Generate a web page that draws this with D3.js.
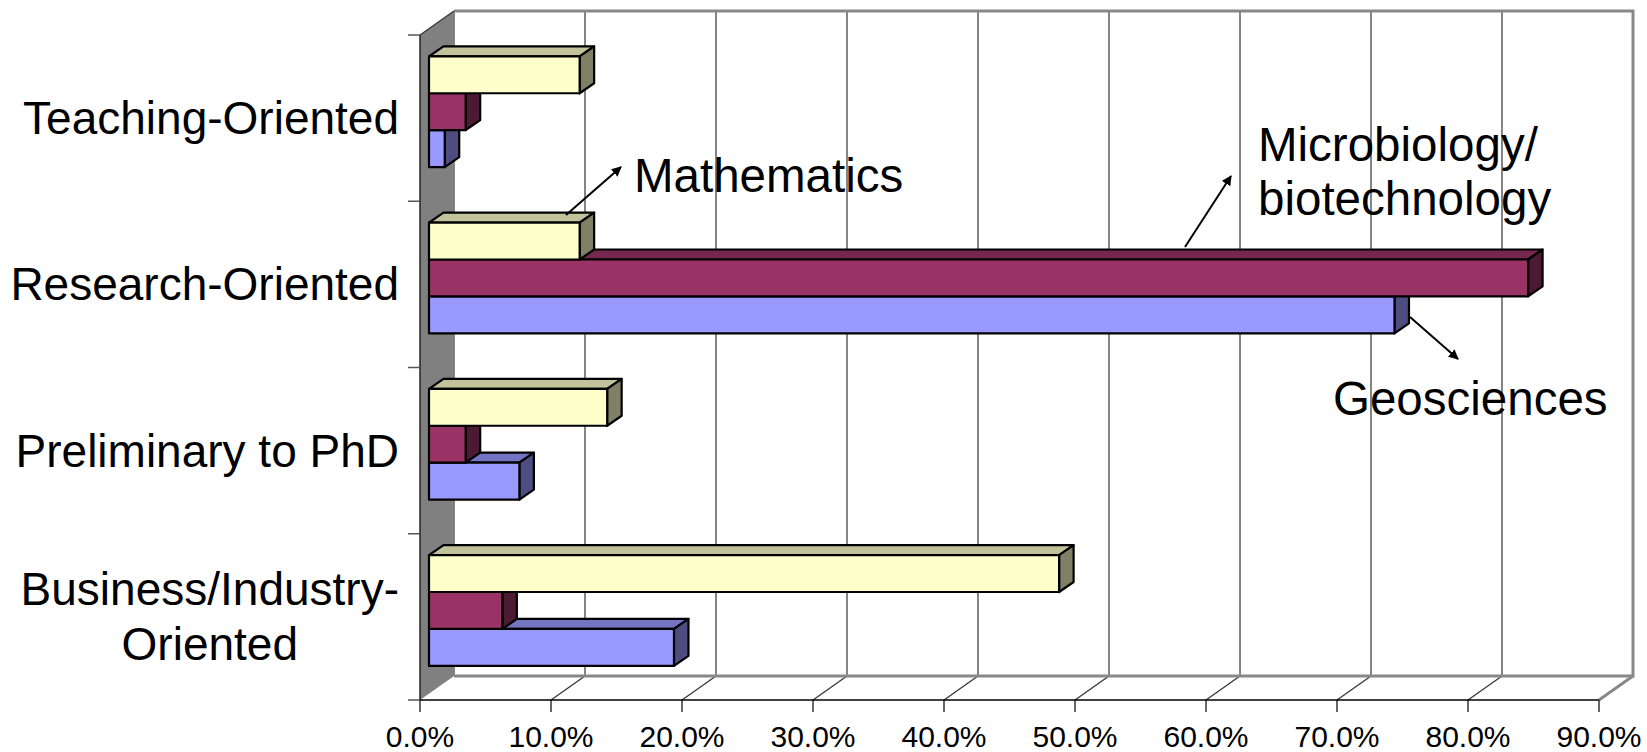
<!DOCTYPE html>
<html>
<head>
<meta charset="utf-8">
<script src="https://cdn.jsdelivr.net/npm/d3@7"></script>
<style>
  body { margin: 0; background: #fff; }
  svg { display: block; }
  text { font-family: "Liberation Sans", Arial, sans-serif; fill: #000; }
</style>
</head>
<body>
<svg id="chart" width="1647" height="752"></svg>
<script>
// data (percent of respondents)
const categories = ['Teaching-Oriented', 'Research-Oriented', 'Preliminary to PhD', 'Business/Industry-Oriented'];
const categoryLines = [['Teaching-Oriented'], ['Research-Oriented'], ['Preliminary to PhD'], ['Business/Industry-', 'Oriented']];
const seriesNames = ['Mathematics', 'Microbiology/biotechnology', 'Geosciences'];
const mathValues = [11.5, 11.5, 13.6, 48.1];
const microValues = [2.8, 83.9, 2.8, 5.6];
const geoValues = [1.2, 73.7, 6.9, 18.7];
const xTicks = [0, 10, 20, 30, 40, 50, 60, 70, 80, 90];

const seriesValues = [mathValues, microValues, geoValues];
const fronts = ['#FFFFCC', '#993366', '#9999FF'];
const tops = ['#C2C29B', '#76274E', '#7474C2'];
const sides = ['#808066', '#4D1A33', '#4D4D80'];

const svg = d3.select('#chart');

const plotTop = 35, plotBottom = 700;
const depth = { dx: 34, dy: -24 };        // wall depth
const barOff = { dx: 9, dy: -6.4 };        // bars sit a bit behind the front plane
const barDepth = { dx: 14.5, dy: -10 };

const x = d3.scaleLinear().domain([0, 90]).range([420, 1599]);
const y = d3.scaleBand().domain(categories).range([plotTop, plotBottom]);
// three bars + 50% gap width
const barH = y.bandwidth() / 4.5;
const ySeries = d3.scaleBand().domain(seriesNames)
  .range([barH * 0.75, barH * 3.75]);

const backLeft = x(0) + depth.dx, backRight = x(90) + depth.dx;
const backTop = plotTop + depth.dy, backBottom = plotBottom + depth.dy;

// gridlines on the back wall and the floor
const grid = svg.append('g');
grid.selectAll('line.back').data(xTicks).enter().append('line')
  .attr('x1', d => x(d) + depth.dx).attr('x2', d => x(d) + depth.dx)
  .attr('y1', backTop).attr('y2', backBottom)
  .attr('stroke', '#333').attr('stroke-width', 1.2);
grid.selectAll('line.floor').data(xTicks.slice(1, -1)).enter().append('line')
  .attr('x1', d => x(d)).attr('y1', plotBottom)
  .attr('x2', d => x(d) + depth.dx).attr('y2', backBottom)
  .attr('stroke', '#333').attr('stroke-width', 1.2);

// wall borders
const border = [[backLeft, backBottom], [backRight, backBottom], [backRight, backTop], [backLeft, backTop]];
svg.append('path')
  .attr('d', d3.line()(border))
  .attr('fill', 'none').attr('stroke', '#888').attr('stroke-width', 3);
svg.append('line')
  .attr('x1', x(90)).attr('y1', plotBottom).attr('x2', backRight).attr('y2', backBottom)
  .attr('stroke', '#888').attr('stroke-width', 3);

// left side wall
svg.append('path')
  .attr('d', d3.line()([[x(0), plotTop], [backLeft, backTop], [backLeft, backBottom], [x(0), plotBottom]]) + 'Z')
  .attr('fill', '#808080').attr('stroke', 'none');
svg.append('line')
  .attr('x1', x(0)).attr('y1', plotTop).attr('x2', backLeft).attr('y2', backTop)
  .attr('stroke', '#333').attr('stroke-width', 1.2);
svg.append('line')
  .attr('x1', x(0)).attr('y1', plotTop).attr('x2', x(0)).attr('y2', plotBottom)
  .attr('stroke', '#222').attr('stroke-width', 1.5);

// category ticks
const catEdges = categories.map(c => y(c)).concat([plotBottom]);
svg.selectAll('line.ctick').data(catEdges).enter().append('line')
  .attr('x1', x(0) - 12).attr('x2', x(0))
  .attr('y1', d => d).attr('y2', d => d)
  .attr('stroke', '#555').attr('stroke-width', 1.5);

// value axis along the front of the floor
svg.append('line')
  .attr('x1', x(0)).attr('x2', x(90)).attr('y1', plotBottom).attr('y2', plotBottom)
  .attr('stroke', '#000').attr('stroke-width', 1.5);
const xAxis = svg.append('g');
xAxis.selectAll('line').data(xTicks).enter().append('line')
  .attr('x1', d => x(d)).attr('x2', d => x(d))
  .attr('y1', plotBottom).attr('y2', plotBottom + 12)
  .attr('stroke', '#000').attr('stroke-width', 1.2);
xAxis.selectAll('text').data(xTicks).enter().append('text')
  .attr('x', d => x(d)).attr('y', 747)
  .attr('text-anchor', 'middle')
  .style('font-size', '30px')
  .text(d => d3.format('.1f')(d) + '%');

// bars, drawn bottom series first so the upper bar hides the top face below it
const bars = [];
for (let s = seriesNames.length - 1; s >= 0; s--) {
  categories.forEach((c, i) => {
    bars.push({ s, c, v: seriesValues[s][i] });
  });
}
const barG = svg.append('g')
  .attr('stroke', '#000').attr('stroke-width', 2.2).attr('stroke-linejoin', 'round');
bars.forEach(b => {
  const x0 = x(0) + barOff.dx, x1 = x(b.v) + barOff.dx;
  const y0 = y(b.c) + ySeries(seriesNames[b.s]) + barOff.dy, y1 = y0 + barH;
  const g = barG.append('g');
  g.append('path')
    .attr('d', d3.line()([[x0, y0], [x0 + barDepth.dx, y0 + barDepth.dy], [x1 + barDepth.dx, y0 + barDepth.dy], [x1, y0]]) + 'Z')
    .attr('fill', tops[b.s]);
  g.append('path')
    .attr('d', d3.line()([[x1, y0], [x1 + barDepth.dx, y0 + barDepth.dy], [x1 + barDepth.dx, y1 + barDepth.dy], [x1, y1]]) + 'Z')
    .attr('fill', sides[b.s]);
  g.append('rect')
    .attr('x', x0).attr('y', y0).attr('width', x1 - x0).attr('height', barH)
    .attr('fill', fronts[b.s]);
});

// category labels
const labelRight = 399, lineGap = 55;
categories.forEach((c, i) => {
  const lines = categoryLines[i];
  const mid = y(c) + y.bandwidth() / 2;
  const t = svg.append('text').style('font-size', '46px');
  if (lines.length === 1) {
    t.attr('text-anchor', 'end').attr('x', labelRight).attr('y', mid + 16).text(lines[0]);
  } else {
    t.attr('text-anchor', 'middle');
    lines.forEach((ln, k) => {
      t.append('tspan').attr('y', mid - lineGap * (lines.length - 1) / 2 + k * lineGap + 16).text(ln);
    });
    const w = d3.max(t.selectAll('tspan').nodes(), n => n.getComputedTextLength());
    t.selectAll('tspan').attr('x', labelRight - w / 2);
  }
});

// series call-outs
svg.append('defs').append('marker')
  .attr('id', 'arrow').attr('viewBox', '0 0 10 10')
  .attr('refX', 9).attr('refY', 5)
  .attr('markerWidth', 5).attr('markerHeight', 5)
  .attr('markerUnits', 'strokeWidth')
  .attr('orient', 'auto')
  .append('path').attr('d', 'M0,0L10,5L0,10Z').attr('fill', '#000');

const callouts = [
  { lines: ['Mathematics'], tx: 634, ty: 192, from: [566, 215], to: [621, 167] },
  { lines: ['Microbiology/', 'biotechnology'], tx: 1258, ty: 161, from: [1185, 247], to: [1231, 176] },
  { lines: ['Geosciences'], tx: 1333, ty: 415, from: [1410, 317], to: [1458, 359] }
];
callouts.forEach(a => {
  svg.append('line')
    .attr('x1', a.from[0]).attr('y1', a.from[1]).attr('x2', a.to[0]).attr('y2', a.to[1])
    .attr('stroke', '#000').attr('stroke-width', 2)
    .attr('marker-end', 'url(#arrow)');
  const t = svg.append('text').style('font-size', '47.5px');
  a.lines.forEach((ln, k) => {
    t.append('tspan').attr('x', a.tx).attr('y', a.ty + k * 54).text(ln);
  });
});
</script>
</body>
</html>
